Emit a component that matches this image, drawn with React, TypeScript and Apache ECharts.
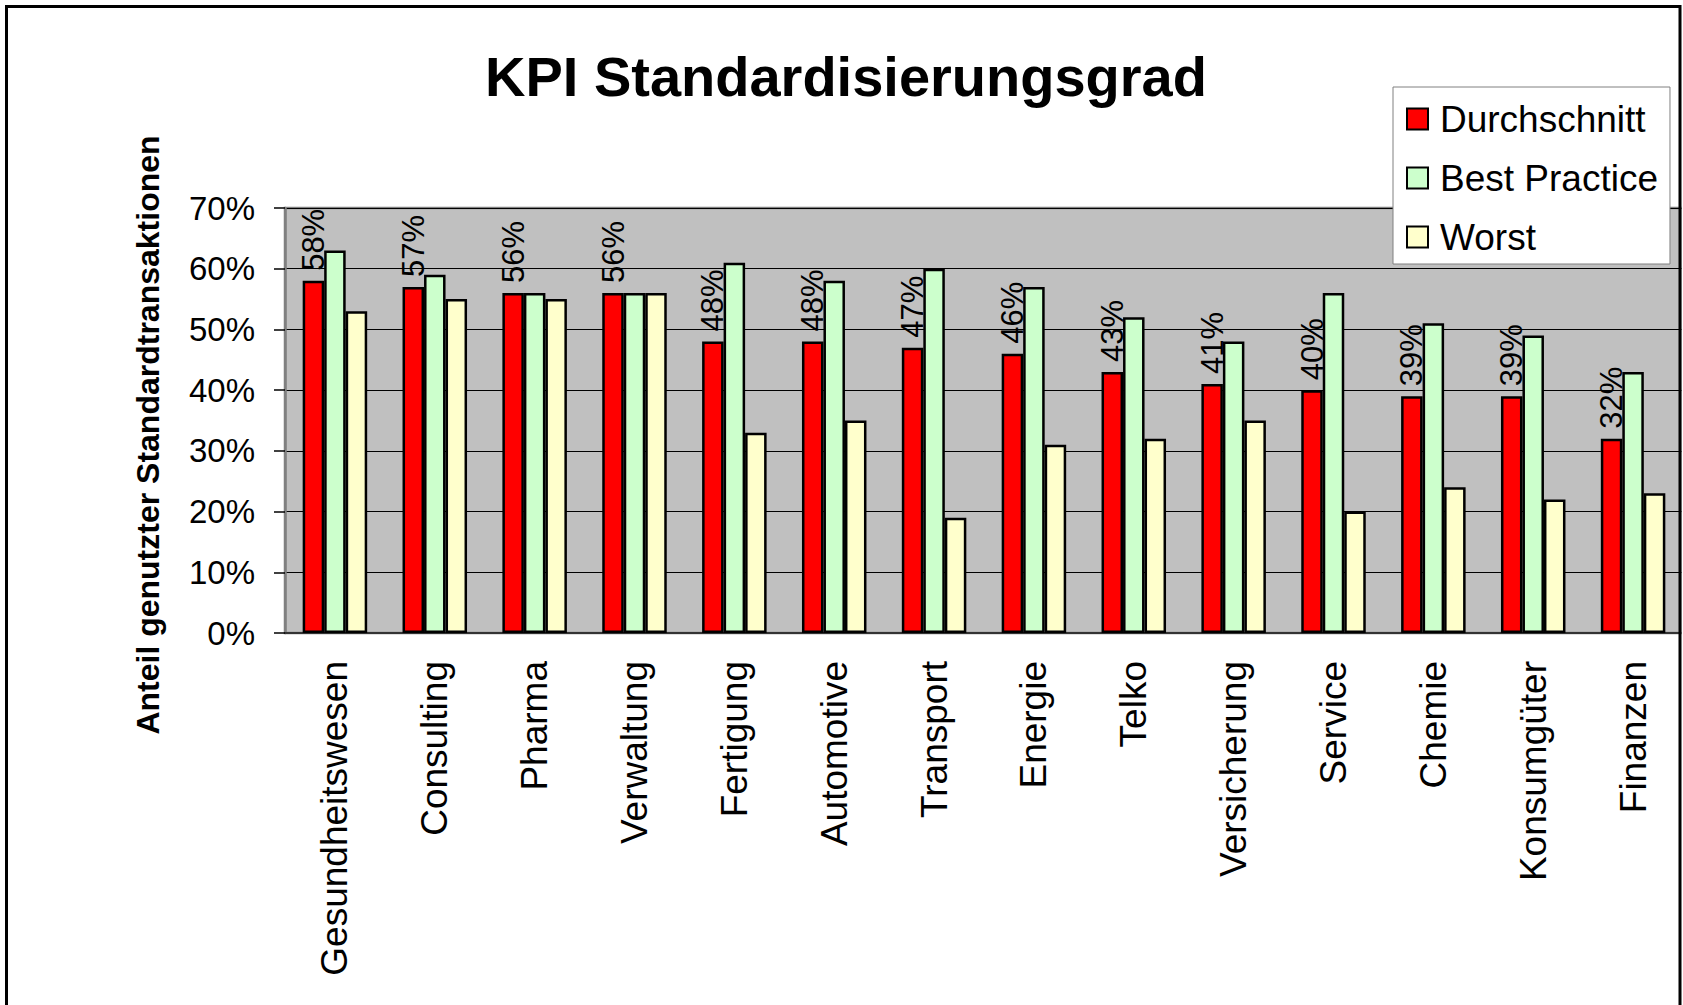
import React, { useEffect, useRef } from "react";
import * as echarts from "echarts";

const FONT = '"Liberation Sans", Arial, sans-serif';

const categories = [
  "Gesundheitswesen",
  "Consulting",
  "Pharma",
  "Verwaltung",
  "Fertigung",
  "Automotive",
  "Transport",
  "Energie",
  "Telko",
  "Versicherung",
  "Service",
  "Chemie",
  "Konsumgüter",
  "Finanzen",
];
const durchschnitt = [58, 57, 56, 56, 48, 48, 47, 46, 43, 41, 40, 39, 39, 32];
const bestPractice = [63, 59, 56, 56, 61, 58, 60, 57, 52, 48, 56, 51, 49, 43];
const worst = [53, 55, 55, 56, 33, 35, 19, 31, 32, 35, 20, 24, 22, 23];
const seriesNames = ["Durchschnitt", "Best Practice", "Worst"];
const seriesColors = ["#FF0000", "#CCFFCC", "#FFFFCC"];

export default function App() {
  const ref = useRef<HTMLDivElement>(null);

  useEffect(() => {
    if (!ref.current) return;
    const chart = echarts.init(ref.current, null, { renderer: "svg" });
    const barBase = {
      type: "bar",
      barWidth: 21.5,
      barGap: "0%",
    };
    const seriesData = [durchschnitt, bestPractice, worst];
    const option: any = {
      animation: false,
      backgroundColor: "#ffffff",
      textStyle: { fontFamily: FONT },
      title: {
        text: "KPI Standardisierungsgrad",
        left: 485,
        top: 48,
        padding: 0,
        textStyle: { fontSize: 56, fontWeight: "bold", color: "#000", fontFamily: FONT },
      },
      legend: {
        data: seriesNames,
        orient: "vertical",
        left: 1393,
        top: 87,
        padding: [12, 12, 7, 13],
        itemWidth: 21,
        itemHeight: 21,
        itemGap: 19,
        icon: "rect",
        backgroundColor: "#ffffff",
        borderColor: "#808080",
        borderWidth: 1,
        itemStyle: { borderColor: "#000", borderWidth: 2 },
        textStyle: { fontSize: 37, lineHeight: 40, color: "#000", fontFamily: FONT, padding: [0, 0, 0, 7] },
      },
      grid: {
        left: 285,
        top: 208,
        width: 1400,
        height: 425,
        show: true,
        backgroundColor: "#C0C0C0",
        borderColor: "#808080",
        borderWidth: 2.5,
      },
      xAxis: {
        type: "category",
        data: categories,
        axisLine: { lineStyle: { color: "#333", width: 2 } },
        axisTick: { length: 12, lineStyle: { color: "#333", width: 1.5 } },
        axisLabel: { rotate: 90, margin: 28, fontSize: 37, color: "#000", interval: 0, fontFamily: FONT },
      },
      yAxis: {
        type: "value",
        min: 0,
        max: 70,
        interval: 10,
        axisLine: { show: true, lineStyle: { color: "#808080", width: 2.5 } },
        axisTick: { show: true, length: 11, lineStyle: { color: "#000", width: 1.5 } },
        axisLabel: { formatter: "{value}%", fontSize: 33, color: "#000", margin: 30, fontFamily: FONT },
        splitLine: { lineStyle: { color: "#000", width: 1 } },
      },
      series: seriesNames.map((name, i) => ({
        ...barBase,
        name,
        data: seriesData[i],
        itemStyle: { color: seriesColors[i], borderColor: "#000", borderWidth: 2.5 },
        label:
          i === 0
            ? {
                show: true,
                position: "top",
                rotate: 90,
                align: "left",
                verticalAlign: "middle",
                distance: 10,
                fontSize: 31,
                color: "#000",
                fontFamily: FONT,
                formatter: "{c}%",
              }
            : { show: false },
      })),
      graphic: [
        {
          type: "text",
          x: 148,
          y: 435,
          rotation: Math.PI / 2,
          style: {
            text: "Anteil genutzter Standardtransaktionen",
            fontSize: 32,
            fontWeight: "bold",
            fontFamily: FONT,
            fill: "#000",
            align: "center",
            verticalAlign: "middle",
            textAlign: "center",
            textVerticalAlign: "middle",
          },
        },
        {
          type: "rect",
          z: 90,
          shape: { x: 1681.5, y: 0, width: 10, height: 1005 },
          style: { fill: "#ffffff" },
        },
        {
          type: "rect",
          z: 100,
          shape: { x: 6.5, y: 6.5, width: 1673.5, height: 1010 },
          style: { fill: "none", stroke: "#000", lineWidth: 3 },
        },
      ],
    };
    chart.setOption(option);
    return () => chart.dispose();
  }, []);

  return (
    <div
      ref={ref}
      style={{ position: "absolute", left: 0, top: 0, width: 1683, height: 1005 }}
    />
  );
}
